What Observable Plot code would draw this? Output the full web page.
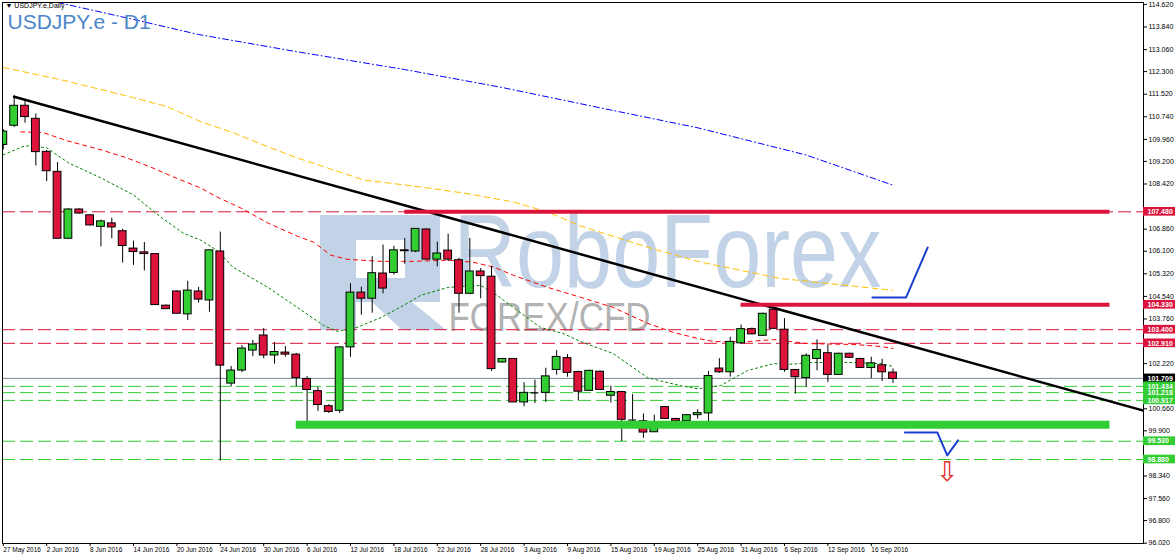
<!DOCTYPE html>
<html><head><meta charset="utf-8">
<script src="https://cdn.jsdelivr.net/npm/d3@7"></script>
<script src="https://cdn.jsdelivr.net/npm/@observablehq/plot@0.6"></script>
<style>
body{margin:0;background:#fff;}
#wrap{position:relative;width:1175px;height:558px;}
</style></head><body><div id="wrap"></div>
<script>
// ---- OHLC (bar index 0 = 27 May 2016) ----
const open  = [109.77,110.43,111.12,110.67,109.53,108.84,106.53,107.54,107.34,106.94,107.06,106.79,106.19,106.06,106.00,104.22,104.71,103.92,104.71,104.40,106.09,101.53,101.98,102.67,103.19,102.50,102.60,102.53,101.69,101.27,100.75,100.59,102.78,104.67,104.46,105.33,105.35,106.13,106.09,106.85,105.81,106.12,105.79,104.63,105.40,105.22,102.26,102.38,100.88,101.21,101.21,102.00,102.41,101.93,101.28,101.94,101.11,101.24,100.27,100.23,99.85,100.72,100.31,100.24,100.44,100.50,102.05,101.92,102.92,103.41,103.18,104.08,103.39,102.00,101.72,102.38,102.58,101.83,102.56,102.38,102.07,102.16,101.91];
const high  = [110.30,111.47,111.31,110.84,109.58,109.16,107.56,107.56,107.36,107.17,107.24,106.86,106.45,106.40,106.02,104.24,104.73,105.06,104.85,106.13,106.76,102.12,102.84,103.02,103.43,102.95,102.81,102.57,101.77,101.40,100.80,102.80,104.98,104.86,105.91,106.31,106.27,106.54,106.87,106.87,106.41,106.69,105.86,106.54,105.50,105.58,102.40,102.40,101.56,101.65,102.06,102.67,102.53,101.96,101.99,101.96,101.45,101.26,101.15,100.48,100.44,100.74,100.33,100.46,100.63,101.95,102.39,103.13,103.55,103.45,103.96,104.10,103.77,102.02,102.56,103.04,102.86,102.58,102.58,102.40,102.44,102.37,102.04];
const low   = [109.60,110.37,110.52,109.04,108.50,106.53,106.50,107.38,106.97,106.25,106.53,105.69,105.61,105.42,104.24,104.10,103.94,103.71,104.31,103.99,98.86,101.42,101.91,102.46,102.39,102.20,102.44,101.42,100.19,100.57,100.50,100.50,102.44,103.89,103.96,104.63,105.28,105.65,106.05,105.81,105.56,105.74,103.96,104.60,104.46,101.95,102.24,100.88,100.73,100.84,100.88,101.82,101.75,100.94,101.26,101.29,100.86,99.53,100.01,99.64,99.84,100.29,100.21,100.22,100.30,100.06,101.88,101.75,102.90,103.21,103.16,103.40,101.92,101.17,101.40,101.97,101.57,101.81,102.40,102.05,101.70,101.60,101.54];
const close = [110.23,111.12,110.73,109.52,108.86,106.53,107.54,107.40,106.99,107.13,106.92,106.28,106.07,106.00,104.24,104.10,103.94,104.74,104.43,106.13,102.15,101.98,102.74,102.88,102.50,102.62,102.53,101.72,101.31,100.79,100.55,102.78,104.67,104.46,105.34,104.81,106.13,106.10,106.87,105.81,106.02,105.81,104.63,105.40,105.24,102.03,102.38,100.88,101.21,101.21,101.78,102.45,101.90,101.25,101.97,101.31,101.24,100.28,100.27,99.84,100.15,100.31,100.23,100.44,100.51,101.79,101.92,102.97,103.41,103.23,103.94,103.42,102.00,101.75,102.49,102.69,101.83,102.56,102.42,102.07,102.23,101.92,101.69];

// ---- date axis ----
const tickBars  = [0,4,8,12,16,20,24,28,32,36,40,44,48,52,56,60,64,68,72,76,80];
const tickDates = ["27 May 2016","2 Jun 2016","8 Jun 2016","14 Jun 2016","20 Jun 2016","24 Jun 2016","30 Jun 2016","6 Jul 2016","12 Jul 2016","18 Jul 2016","22 Jul 2016","28 Jul 2016","3 Aug 2016","9 Aug 2016","15 Aug 2016","19 Aug 2016","25 Aug 2016","31 Aug 2016","6 Sep 2016","12 Sep 2016","16 Sep 2016"];
// ---- price axis ----
const priceTicks = [114.62,113.84,113.06,112.30,111.52,110.74,109.96,109.20,108.42,107.64,106.86,106.10,105.32,104.54,103.76,102.98,102.22,101.44,100.66,99.90,99.12,98.34,97.56,96.80,96.02];

// ---- moving averages (bar index, price) ----
const maGreenX = [0,2,4,6,9,12,14.5,16.6,18.2,19.7,21.2,24.4,27.1,29.5,30.8,32.6,34.8,36.9,38.5,41,44,45.5,47,49.5,51.6,53.2,56.2,59.4,62.4,64,66.1,68.6,71,72.3,74.7,77.8,80.9,82];
const maGreenP = [109.43,109.74,109.67,109.15,108.63,108.04,107.28,106.72,106.48,106.13,105.54,104.85,104.16,103.54,103.33,103.47,103.81,104.23,104.58,104.85,104.92,104.58,104.16,103.47,103.26,102.98,102.57,101.73,101.46,101.35,101.46,101.98,102.22,102.19,102.26,102.26,102.22,102.12];
const maRedX = [1.6,3.7,5.9,9,11.4,13.8,15.7,18.2,19.7,21.9,24.4,27.1,28.6,30.2,31.7,34.8,37.8,41,43.3,45.2,47,50.2,53.2,56.2,59.4,61.8,64,65.5,68.6,71,74.1,78.4,80.9,82];
const maRedP = [110.22,110.19,109.91,109.60,109.32,108.97,108.66,108.28,107.97,107.59,107.07,106.62,106.41,105.96,105.82,105.75,105.75,105.79,105.72,105.55,105.27,104.85,104.51,104.16,103.61,103.29,103.09,102.98,102.98,103.05,102.91,102.88,102.81,102.74];
const maGoldX = [0,5.3,9,12,15.1,18.2,21.2,24.4,27.1,33.2,37.8,42.4,47,50.2,53.2,59.7,64.3,71.6,82];
const maGoldP = [112.44,112.02,111.68,111.40,111.09,110.57,110.19,109.70,109.32,108.56,108.35,108.11,107.80,107.45,106.97,106.20,105.72,105.16,104.75];
const maBlueX = [5,12,18,27,37,46,55,64,74,82];
const maBlueP = [114.69,114.10,113.58,112.99,112.37,111.75,111.05,110.36,109.42,108.38];

// ---- drawn objects ----
const trendX = [1, 106];
const trendP = [111.43, 100.50];
const redDashLevels = [107.46, 103.39, 102.92];
const greenDashLevels = [101.434, 101.218, 100.95, 99.54, 98.91];
const lastPrice = 101.709;
const thickSegs = [
  {from: 37, to: 102, price: 107.46, color: "#dc143c", w: 4},
  {from: 68, to: 102, price: 104.25, color: "#dc143c", w: 4},
  {from: 27, to: 102, price: 100.11, color: "#32cd32", w: 8}
];
const upArrowX = [80.1, 83.2, 85.2];
const upArrowP = [104.50, 104.50, 106.23];
const dnArrowX = [83.1, 86.1, 87.0, 88.0];
const dnArrowP = [99.84, 99.84, 99.05, 99.57];
const signalArrow = {i: 87.0, p: 98.46};

// ---- price labels on the right scale ----
const boxPrices = [107.46, 104.25, 103.39, 102.92, 101.709, 101.434, 101.218, 100.95, 99.54, 98.91];
const boxTexts  = ["107.480","104.330","103.400","102.910","101.709","101.434","101.218","100.917","99.530","98.880"];
const boxColors = ["#dc143c","#dc143c","#dc143c","#dc143c","#000000","#32cd32","#32cd32","#32cd32","#32cd32","#32cd32"];

const bars = open.map((o, i) => ({i, o, h: high[i], l: low[i], c: close[i]}));
const xMin = -0.074, xMax = 105.09;
const boxW = 2.95;
const toPts = (xs, ps) => xs.map((x, k) => ({x, p: ps[k]}));
const tickLabel = new Map(tickBars.map((b, k) => [b, tickDates[k]]));
const boxes = boxPrices.map((p, k) => ({p, t: boxTexts[k], c: boxColors[k]}));
// scale labels hidden behind the value boxes
const visibleTicks = priceTicks.filter(t => boxPrices.every(b => Math.abs(b - t) > 0.25));

const chart = Plot.plot({
  width: 1175, height: 558,
  marginLeft: 2, marginRight: 32, marginTop: 2, marginBottom: 15,
  style: {fontFamily: "Liberation Sans, Arial, sans-serif", background: "#fff"},
  x: {type: "linear", domain: [xMin, xMax], axis: null},
  y: {domain: [96.01, 114.685], axis: null},
  marks: [
    // watermark
    Plot.text(["RoboForex"], {frameAnchor: "top-left", dx: 451, dy: 251, text: d => d, fontSize: 104, fill: "#b7cbe3", fillOpacity: 0.85, textAnchor: "start", lineAnchor: "middle", className: "wm1"}),
    Plot.text(["FOREX/CFD"], {frameAnchor: "top-left", dx: 446, dy: 316, text: d => d, fontSize: 40, fill: "#a8a8a8", fillOpacity: 0.9, textAnchor: "start", lineAnchor: "middle", className: "wm2"}),
    // dashed levels
    Plot.ruleY(redDashLevels, {stroke: "#dc143c", strokeWidth: 1, strokeDasharray: "13,5"}),
    Plot.ruleY(greenDashLevels, {stroke: "#32cd32", strokeWidth: 1, strokeDasharray: "13,5"}),
    Plot.ruleY([lastPrice], {stroke: "#778899", strokeWidth: 1}),
    // moving averages
    Plot.line(toPts(maBlueX, maBlueP), {x: "x", y: "p", stroke: "#0000ff", strokeWidth: 1, strokeDasharray: "6,3,1,3", clip: true}),
    Plot.line(toPts(maGoldX, maGoldP), {x: "x", y: "p", stroke: "#ffc000", strokeWidth: 1, strokeDasharray: "6,4", clip: true}),
    Plot.line(toPts(maRedX, maRedP), {x: "x", y: "p", stroke: "#ff0000", strokeWidth: 1, strokeDasharray: "4,4", clip: true}),
    Plot.line(toPts(maGreenX, maGreenP), {x: "x", y: "p", stroke: "#008000", strokeWidth: 1, strokeDasharray: "2,3", clip: true}),
    // candles
    Plot.ruleX(bars, {x: "i", y1: "l", y2: "h", stroke: "#000", strokeWidth: 1, clip: true}),
    Plot.rect(bars, {x1: d => d.i - 0.36, x2: d => d.i + 0.36, y1: "o", y2: "c", fill: d => d.c >= d.o ? "#32cd32" : "#dc143c", stroke: "#000", strokeWidth: 1, clip: true}),
    Plot.ruleY(bars.filter(d => Math.abs(d.o - d.c) < 0.02), {y: "o", x1: d => d.i - 0.36, x2: d => d.i + 0.36, stroke: "#000", strokeWidth: 1.2}),
    // trend line
    Plot.line(toPts(trendX, trendP), {x: "x", y: "p", stroke: "#000", strokeWidth: 2.5, clip: true}),
    // thick horizontal segments
    Plot.ruleY(thickSegs, {y: "price", x1: "from", x2: "to", stroke: d => d.color, strokeWidth: d => d.w}),
    // blue scenario arrows
    Plot.line(toPts(upArrowX, upArrowP), {x: "x", y: "p", stroke: "#1c3fd0", strokeWidth: 2}),
    Plot.line(toPts(dnArrowX, dnArrowP), {x: "x", y: "p", stroke: "#1c3fd0", strokeWidth: 2}),
    Plot.text([signalArrow], {x: "i", y: "p", text: () => "\u21e9", fontSize: 27, fill: "#e03030", fontFamily: "DejaVu Sans"}),
    // frame and axes
    Plot.frame({stroke: "#000", strokeWidth: 1}),
    Plot.axisY({anchor: "right", ticks: visibleTicks, tickFormat: d => d.toFixed(3), tickSize: 3, tickPadding: 2, fontSize: 7, color: "#000"}),
    Plot.axisX({ticks: tickBars, tickFormat: d => tickLabel.get(d), tickSize: 3, tickPadding: 1, fontSize: 6.5, textAnchor: "start", color: "#000"}),
    // value boxes on scale
    Plot.rect(boxes, {x1: xMax, x2: xMax + boxW, y1: d => d.p - 0.15, y2: d => d.p + 0.15, fill: "c", clip: false}),
    Plot.text(boxes, {x: xMax, y: "p", text: "t", dx: 4, textAnchor: "start", fill: "#fff", fontSize: 7, fontWeight: "bold"}),
    // titles
    Plot.text(["USDJPY.e - D1"], {frameAnchor: "top-left", dx: 5, dy: 12, text: d => d, fontSize: 21, fill: "#4a86c8", textAnchor: "start", lineAnchor: "top"}),
    Plot.text(["\u25bc USDJPY.e,Daily"], {frameAnchor: "top-left", dx: 3, dy: 1, text: d => d, fontSize: 7, fill: "#000", textAnchor: "start", lineAnchor: "top"})
  ]
});
document.getElementById("wrap").appendChild(chart);

// watermark fitting + logo
const svg = d3.select(chart);
svg.selectAll(".wm1 text").attr("textLength", 428).attr("lengthAdjust", "spacingAndGlyphs");
svg.selectAll(".wm2 text").attr("textLength", 202).attr("lengthAdjust", "spacingAndGlyphs");
svg.insert("path", ".wm1")
  .attr("d", "M320,215H440V302H412L446,330H402L372,302H356V330H320Z M356,240V278H405V240Z")
  .attr("fill", "#b7cbe3").attr("fill-opacity", 0.85).attr("fill-rule", "evenodd");
</script>
</body></html>
